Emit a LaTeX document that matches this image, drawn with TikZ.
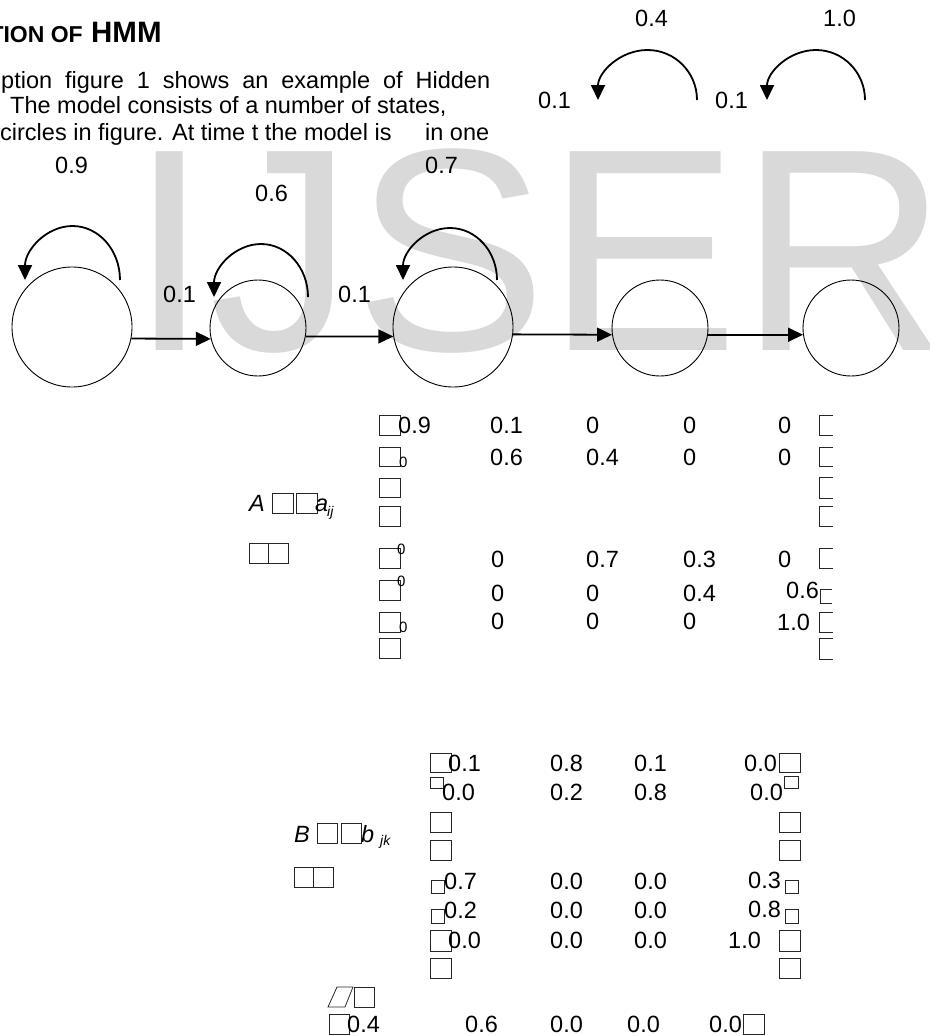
\documentclass[tikz,border=0pt]{standalone}
\usepackage{fontspec}
\setmainfont{Liberation Sans}
\usetikzlibrary{arrows.meta}
\newcommand{\txt}{\fontsize{23.5}{28}\selectfont}
\newcommand{\smalltxt}{\fontsize{15}{18}\selectfont}
\newcommand{\subtxt}{\fontsize{14}{16}\selectfont}
\begin{document}
\begin{tikzpicture}
[x=1pt,y=-1pt,>={Triangle[length=15pt,width=14pt]},
state/.style = {draw, circle, line width=0.9pt, inner sep=0pt},
num/.style = {anchor=base west, inner sep=0pt, font=\txt},
small/.style = {anchor=base west, inner sep=0pt, font=\smalltxt},
tofu/.style = {draw=black!85, line width=0.8pt},
selfloop/.style = {->, line width=1.8pt},
link/.style = {->, line width=1.8pt}]
\useasboundingbox (0,0) rectangle (929,1036);
% watermark
\node (wm) at (129,350)[anchor=base west,inner sep=0pt,text=black!15,font=\fontsize{289}{289}\selectfont] {IJSER};
% heading and text
\node (hd) at (83,42)[anchor=base east,inner sep=0pt,font=\fontsize{23}{26}\selectfont\bfseries] {TION OF};
\node (hmm) at (91,42)[anchor=base west,inner sep=0pt,font=\fontsize{29.5}{32}\selectfont\bfseries] {HMM};
\node (ln1) at (1,88)[num] {\makebox[489pt][s]{ption figure 1 shows an example of Hidden}};
\node (ln2) at (10,113)[num] {The model consists of a number of states,};
\node (ln3) at (0,140)[num] {circles in figure. At time t the model is};
\node (ln3b) at (425,140)[num] {in one};
% states
\node (s1) at (72,327)[state,minimum size=120pt] {};
\node (s2) at (258,328)[state,minimum size=96pt] {};
\node (s3) at (453,327)[state,minimum size=120pt] {};
\node (s4) at (660,328)[state,minimum size=96pt] {};
\node (s5) at (851,328)[state,minimum size=96pt] {};
\draw[link] (s1.-11) -- (s2.193);
\draw[link] (s2.-10) -- (s3.189);
\draw[link] (s3.-7) -- (s4.188);
\draw[link] (s4.-8) -- (s5.188);
% self loops
\coordinate (r4) at (697,100);
\coordinate (r5) at (865,100);
\draw[selfloop] ([shift={(48,-47)}]s1.center) arc[start angle=0,end angle=-180,x radius=47.5,y radius=54];
\draw[selfloop] ([shift={(50,-31)}]s2.center) arc[start angle=0,end angle=-180,x radius=47,y radius=53];
\draw[selfloop] ([shift={(44,-47)}]s3.center) arc[start angle=0,end angle=-180,x radius=47,y radius=52];
\draw[selfloop] (r4) arc[start angle=0,end angle=-180,x radius=49.5,y radius=50];
\draw[selfloop] (r5) arc[start angle=0,end angle=-180,x radius=49,y radius=50];
% transition labels
\node (p11) at (55,173)[num] {0.9};
\node (p22) at (255,201)[num] {0.6};
\node (p33) at (425,173)[num] {0.7};
\node (p44) at (635,27)[num] {0.4};
\node (p55) at (823,27)[num] {1.0};
\node (p12) at (163,302)[num] {0.1};
\node (p23) at (338,302)[num] {0.1};
\node (p34) at (538,108)[num] {0.1};
\node (p45) at (715,108)[num] {0.1};
% matrix A
\node (lblA) at (249,511)[num,font=\txt\itshape] {A};
\draw[tofu] (272,493) rectangle (293,513);
\draw[tofu] (296,493) rectangle (317,513);
\node (aij) at (315,511)[num,font=\txt\itshape] {a};
\node (ij) at (327,516)[small,font=\subtxt\itshape] {ij};
\draw[tofu] (249,543) rectangle (268,563);
\draw[tofu] (268,543) rectangle (288,563);
\draw[tofu] (379,415) rectangle (400,435);
\draw[tofu] (379,447) rectangle (400,466);
\draw[tofu] (379,478) rectangle (400,497);
\draw[tofu] (379,506) rectangle (400,526);
\draw[tofu] (379,548) rectangle (400,568);
\draw[tofu] (379,580) rectangle (400,600);
\draw[tofu] (379,612) rectangle (400,632);
\draw[tofu] (379,638) rectangle (400,658);
\draw[tofu] (833,415) -| (819,435) -- (833,435);
\draw[tofu] (833,447) -| (819,466) -- (833,466);
\draw[tofu] (833,477) -| (819,498) -- (833,498);
\draw[tofu] (833,506) -| (819,526) -- (833,526);
\draw[tofu] (833,548) -| (819,568) -- (833,568);
\draw[tofu] (832,589) -| (820,603) -- (832,603);
\draw[tofu] (833,612) -| (819,632) -- (833,632);
\draw[tofu] (833,638) -| (819,659) -- (833,659);
\node (a11) at (398,433)[num] {0.9};
\node (a12) at (490,433)[num] {0.1};
\node (a13) at (586,433)[num] {0};
\node (a14) at (683,433)[num] {0};
\node (a15) at (778,433)[num] {0};
\node (a21) at (399,467)[small] {0};
\node (a22) at (490,465)[num] {0.6};
\node (a23) at (586,465)[num] {0.4};
\node (a24) at (683,465)[num] {0};
\node (a25) at (778,465)[num] {0};
\node (a31) at (397,554)[small] {0};
\node (a32) at (491,567)[num] {0};
\node (a33) at (586,567)[num] {0.7};
\node (a34) at (683,567)[num] {0.3};
\node (a35) at (778,567)[num] {0};
\node (a41) at (397,586)[small] {0};
\node (a42) at (491,601)[num] {0};
\node (a43) at (586,601)[num] {0};
\node (a44) at (683,601)[num] {0.4};
\node (a45) at (786,598)[num] {0.6};
\node (a51) at (399,632)[small] {0};
\node (a52) at (491,629)[num] {0};
\node (a53) at (586,629)[num] {0};
\node (a54) at (683,629)[num] {0};
\node (a55) at (777,630)[num] {1.0};
% matrix B
\node (lblB) at (294,842)[num,font=\txt\itshape] {B};
\draw[tofu] (317,823) rectangle (337,843);
\draw[tofu] (341,823) rectangle (361,843);
\node (bjk) at (361,842)[num,font=\txt\itshape] {b};
\node (jk) at (380,845)[small,font=\subtxt\itshape] {jk};
\draw[tofu] (294,867) rectangle (313,887);
\draw[tofu] (313,867) rectangle (333,887);
\draw[tofu] (430,753) rectangle (451,772);
\draw[tofu] (430,777) rectangle (443,788);
\draw[tofu] (430,812) rectangle (451,832);
\draw[tofu] (430,840) rectangle (451,860);
\draw[tofu] (431,880) rectangle (444,893);
\draw[tofu] (431,909) rectangle (444,923);
\draw[tofu] (430,930) rectangle (451,951);
\draw[tofu] (430,958) rectangle (451,978);
\draw[tofu] (779,753) rectangle (800,772);
\draw[tofu] (784,776) rectangle (798,788);
\draw[tofu] (779,812) rectangle (800,832);
\draw[tofu] (779,840) rectangle (800,860);
\draw[tofu] (785,880) rectangle (798,893);
\draw[tofu] (785,909) rectangle (798,923);
\draw[tofu] (779,930) rectangle (800,951);
\draw[tofu] (779,958) rectangle (800,978);
\node (b11) at (448,771)[num] {0.1};
\node (b12) at (550,771)[num] {0.8};
\node (b13) at (634,771)[num] {0.1};
\node (b14) at (744,771)[num] {0.0};
\node (b21) at (442,800)[num] {0.0};
\node (b22) at (550,800)[num] {0.2};
\node (b23) at (634,800)[num] {0.8};
\node (b24) at (750,800)[num] {0.0};
\node (b31) at (444,889)[num] {0.7};
\node (b32) at (550,889)[num] {0.0};
\node (b33) at (634,889)[num] {0.0};
\node (b34) at (748,888)[num] {0.3};
\node (b41) at (444,918)[num] {0.2};
\node (b42) at (550,918)[num] {0.0};
\node (b43) at (634,918)[num] {0.0};
\node (b44) at (748,917)[num] {0.8};
\node (b51) at (448,948)[num] {0.0};
\node (b52) at (550,948)[num] {0.0};
\node (b53) at (634,948)[num] {0.0};
\node (b54) at (728,948)[num] {1.0};
% initial distribution
\draw[tofu] (328,1007) -- (337,987) -- (353,987) -- (345,1007) -- cycle;
\draw[tofu] (354,987) rectangle (374,1007);
\draw[tofu] (329,1014) rectangle (349,1034);
\draw[tofu] (743,1014) rectangle (764,1034);
\node (pi1) at (347,1032)[num] {0.4};
\node (pi2) at (465,1032)[num] {0.6};
\node (pi3) at (550,1032)[num] {0.0};
\node (pi4) at (627,1032)[num] {0.0};
\node (pi5) at (709,1032)[num] {0.0};
\end{tikzpicture}
\end{document}
